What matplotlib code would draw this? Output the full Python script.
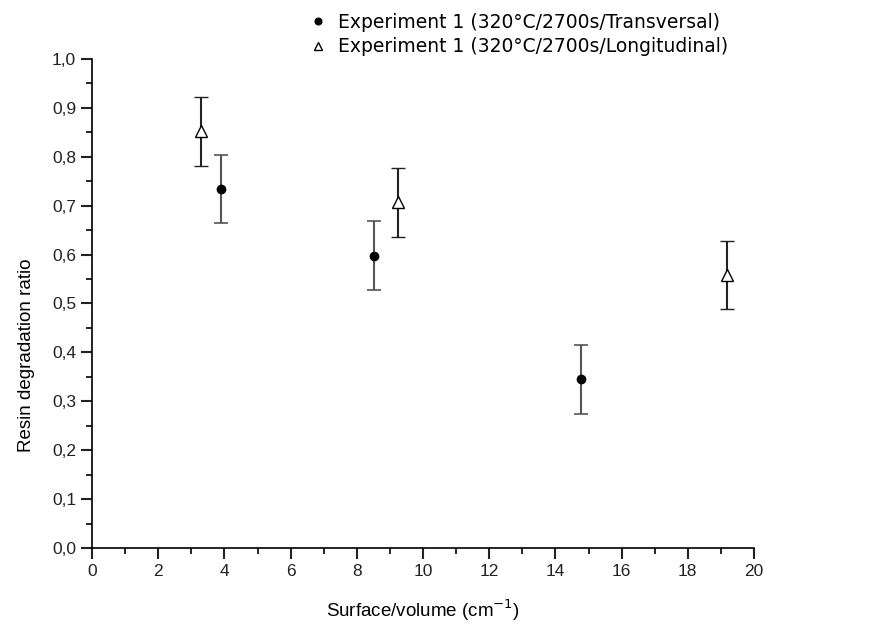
import matplotlib
matplotlib.use("Agg")
import matplotlib.pyplot as plt
from matplotlib.ticker import MultipleLocator, FuncFormatter

plt.rcParams['font.family'] = ['Liberation Sans', 'DejaVu Sans']

# data
trans_x = [3.9, 8.53, 14.78]
trans_y = [0.734, 0.598, 0.345]
trans_err = [0.07, 0.07, 0.07]

long_x = [3.28, 9.25, 19.19]
long_y = [0.852, 0.707, 0.558]
long_err = [0.07, 0.07, 0.07]

label_trans = "Experiment 1 (320°C/2700s/Transversal)"
label_long = "Experiment 1 (320°C/2700s/Longitudinal)"

fig = plt.figure(figsize=(8.8, 6.27), dpi=100)
ax = fig.add_axes([92/880, 79/627, 662/880, 489/627])

ax.errorbar(trans_x, trans_y, yerr=trans_err, fmt='o', color='black',
            ecolor='#555555', elinewidth=1.5, capsize=5, capthick=1.2,
            markersize=6, label=label_trans)
ax.errorbar(long_x, long_y, yerr=long_err, fmt='^', color='black',
            mfc='white', mec='black', mew=1.0, ecolor='#222222',
            elinewidth=1.5, capsize=5, capthick=1.2, markersize=8,
            label=label_long)

ax.set_xlim(0, 20)
ax.set_ylim(0, 1.0)
ax.spines['top'].set_visible(False)
ax.spines['right'].set_visible(False)
for s in ('left', 'bottom'):
    ax.spines[s].set_linewidth(1.2)

ax.xaxis.set_major_locator(MultipleLocator(2))
ax.xaxis.set_minor_locator(MultipleLocator(1))
ax.yaxis.set_major_locator(MultipleLocator(0.1))
ax.yaxis.set_minor_locator(MultipleLocator(0.05))
ax.yaxis.set_major_formatter(FuncFormatter(lambda v, p: ('%.1f' % v).replace('.', ',')))
ax.tick_params(which='major', direction='out', length=8, width=1.5, labelsize=12.5, colors='#222222')
ax.tick_params(which='minor', direction='out', length=4, width=1.2)

ax.set_xlabel("Surface/volume (cm$^{-1}$)", fontsize=13.5, labelpad=13)
ax.set_ylabel("Resin degradation ratio", fontsize=13.5)
ax.yaxis.set_label_coords(-0.086, 0.395)

h, l = ax.get_legend_handles_labels()
h = [hh[0] for hh in h]
fig.legend(h, l, loc='upper left', bbox_to_anchor=(290/880, 1 + 4/627),
           frameon=False, prop={'family': 'DejaVu Sans', 'size': 13.5},
           handlelength=1.2, handletextpad=0.45,
           labelspacing=0.3, markerscale=0.8)

fig.savefig("out.png", dpi=100)
